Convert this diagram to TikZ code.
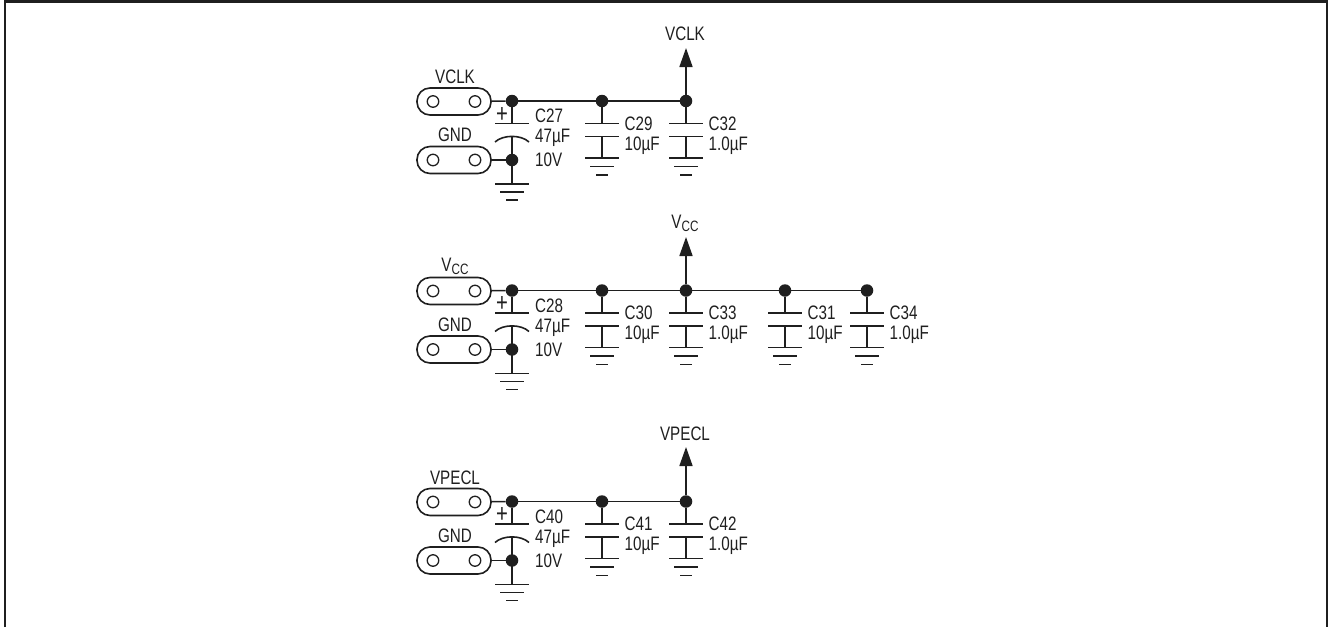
\documentclass[tikz,border=0pt]{standalone}
\usepackage{fontspec}
\setmainfont[FakeStretch=0.78]{Liberation Sans}
\usetikzlibrary{arrows.meta}
\definecolor{ink}{gray}{0.12}
\tikzset{
  wire/.style={draw=ink,line width=1.6pt},
  dotnode/.style={circle,fill=ink,draw=none,minimum size=12.5pt,inner sep=0pt},
  hole/.style={circle,draw=ink,line width=1.3pt,fill=white,minimum size=11.5pt,inner sep=0pt},
  header/.style={rounded corners=13pt,draw=ink,line width=1.6pt,fill=white,minimum width=74pt,minimum height=27pt,inner sep=0pt},
  lbl/.style={text=ink,font=\fontsize{19.5}{22}\selectfont,inner sep=0pt,anchor=west},
  clbl/.style={text=ink,font=\fontsize{19.5}{22}\selectfont,inner sep=0pt},
  rail/.style={wire,-{Triangle[length=19pt,width=13pt,color=ink]}},
}
\newcommand{\um}{\textmu F}
\newcommand{\vcclabel}{V\raisebox{-3.5pt}{\fontsize{15}{15}\selectfont CC}}
% #1 name, #2 x, #3 rail y, #4 label 1, #5 label 2
\newcommand{\capbranch}[5]{%
  \node[dotnode] (#1j) at (#2,#3) {};
  \coordinate (#1a) at (#2,#3+22.5);
  \coordinate (#1b) at (#2,#3+35.5);
  \coordinate (#1g) at (#2,#3+57);
  \draw[wire] (#1j) -- (#1a);
  \draw[wire] ([xshift=-17pt]#1a) -- ([xshift=17pt]#1a);
  \draw[wire] ([xshift=-17pt]#1b) -- ([xshift=17pt]#1b);
  \draw[wire] (#1b) -- (#1g);
  \draw[wire] ([xshift=-17pt]#1g) -- ([xshift=17pt]#1g);
  \draw[wire] ([xshift=-12pt,yshift=-8.5pt]#1g) -- ([xshift=12pt,yshift=-8.5pt]#1g);
  \draw[wire] ([xshift=-6pt,yshift=-17pt]#1g) -- ([xshift=6pt,yshift=-17pt]#1g);
  \node[lbl] (#1t) at (#2+22.5,#3+22.5) {#4};
  \node[lbl] (#1v) at (#2+22.5,#3+44.5) {#5};
}
% #1 name, #2 junction x, #3 rail y, #4 header label, #5 C name
\newcommand{\inputstage}[5]{%
  \node[header] (#1p) at (#2-58,#3+0.5) {};
  \node[hole] (#1pa) at (#2-79,#3+0.5) {};
  \node[hole] (#1pb) at (#2-37,#3+0.5) {};
  \node[header] (#1q) at (#2-58,#3+59) {};
  \node[hole] (#1qa) at (#2-79,#3+59) {};
  \node[hole] (#1qb) at (#2-37,#3+59) {};
  \node[clbl] (#1pl) at (#2-57,#3-24) {#4};
  \node[clbl] (#1ql) at (#2-57,#3+34) {GND};
  \node[dotnode] (#1j) at (#2,#3) {};
  \node[dotnode] (#1k) at (#2,#3+59) {};
  \coordinate (#1a) at (#2,#3+22.5);
  \coordinate (#1b) at (#2,#3+35.5);
  \coordinate (#1g) at (#2,#3+83);
  \draw[wire] (#1p) -- (#1j);
  \draw[wire] (#1q) -- (#1k);
  \draw[wire] (#1j) -- (#1a);
  \draw[wire] ([xshift=-17pt]#1a) -- ([xshift=17pt]#1a);
  \draw[wire] ([xshift=-17pt,yshift=-5.5pt]#1b) .. controls ([xshift=-9pt,yshift=2pt]#1b) and ([xshift=9pt,yshift=2pt]#1b) .. ([xshift=17pt,yshift=-5.5pt]#1b);
  \draw[wire] (#1b) -- (#1g);
  \draw[wire] ([xshift=-17pt]#1g) -- ([xshift=17pt]#1g);
  \draw[wire] ([xshift=-12pt,yshift=-8pt]#1g) -- ([xshift=12pt,yshift=-8pt]#1g);
  \draw[wire] ([xshift=-6pt,yshift=-16pt]#1g) -- ([xshift=6pt,yshift=-16pt]#1g);
  \node[clbl] (#1plus) at (#2-10,#3+13.5) {\fontsize{26}{26}\selectfont +};
  \node[lbl] (#1t) at (#2+23,#3+15) {#5};
  \node[lbl] (#1v) at (#2+23,#3+37) {47\um};
  \node[lbl] (#1w) at (#2+23,#3+59) {10V};
}
\begin{document}
\begin{tikzpicture}[x=1pt,y=-1pt]
\useasboundingbox (0,0) rectangle (1328,627);
\draw[draw=ink,line width=2.2pt] (5,627) -- (5,1.5) -- (1327,1.5) -- (1327,627);
% block 1
\inputstage{a}{512}{101}{VCLK}{C27}
\capbranch{b}{602}{101}{C29}{10\um}
\capbranch{c}{686}{101}{C32}{1.0\um}
\draw[wire] (aj) -- (bj);
\draw[wire] (bj) -- (cj);
\coordinate (atop) at (686,48);
\draw[rail] (cj) -- (atop);
\node[clbl] (alab) at (685,33.5) {VCLK};
% block 2
\inputstage{d}{512}{290.5}{\vcclabel}{C28}
\capbranch{e}{602}{290.5}{C30}{10\um}
\capbranch{f}{686}{290.5}{C33}{1.0\um}
\capbranch{g}{785}{290.5}{C31}{10\um}
\capbranch{h}{867}{290.5}{C34}{1.0\um}
\draw[wire] (dj) -- (ej);
\draw[wire] (ej) -- (fj);
\draw[wire] (fj) -- (gj);
\draw[wire] (gj) -- (hj);
\coordinate (dtop) at (686,237);
\draw[rail] (fj) -- (dtop);
\node[clbl] (dlab) at (685,223.5) {\vcclabel};
% block 3
\inputstage{i}{512}{501.5}{VPECL}{C40}
\capbranch{j}{602}{501.5}{C41}{10\um}
\capbranch{k}{686}{501.5}{C42}{1.0\um}
\draw[wire] (ij) -- (jj);
\draw[wire] (jj) -- (kj);
\coordinate (itop) at (686,447);
\draw[rail] (kj) -- (itop);
\node[clbl] (ilab) at (685,433.5) {VPECL};
\end{tikzpicture}
\end{document}
